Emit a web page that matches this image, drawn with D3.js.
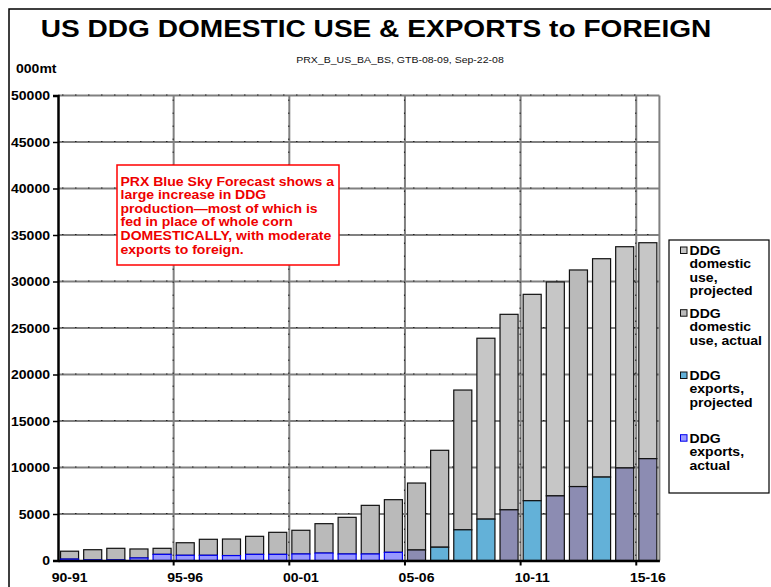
<!DOCTYPE html>
<html><head><meta charset="utf-8">
<script src="https://cdn.jsdelivr.net/npm/d3@7/dist/d3.min.js"></script>
<style>html,body{margin:0;padding:0;background:#fff;}svg{display:block;font-family:"Liberation Sans",Arial,sans-serif;}</style>
</head><body>
<svg id="c" width="771" height="587"></svg>
<script>
// ---- data ----
const categories = ["90-91","91-92","92-93","93-94","94-95","95-96","96-97","97-98","98-99","99-00",
  "00-01","01-02","02-03","03-04","04-05","05-06","06-07","07-08","08-09","09-10",
  "10-11","11-12","12-13","13-14","14-15","15-16"];
const exportsVals = [150,60,60,270,660,560,560,530,660,660,700,800,700,700,880,1130,1430,3300,4450,5450,6430,6950,7950,8970,9950,10950];
const totalVals   = [1000,1160,1310,1240,1310,1910,2280,2310,2600,3030,3250,3960,4640,5930,6540,8330,11850,18330,23900,26470,28620,29950,31240,32450,33740,34170];
const exportKind  = ["actual","actual","actual","actual","actual","actual","actual","actual","actual","actual",
  "actual","actual","actual","actual","actual","other","projected","projected","projected","other",
  "projected","other","other","projected","other","other"];
const domesticKind = ["actual","actual","actual","actual","actual","actual","actual","actual","actual","actual",
  "actual","actual","actual","actual","actual","actual","actual","actual","projected","projected",
  "projected","projected","actual","projected","projected","projected"];
const yTicks = [0,5000,10000,15000,20000,25000,30000,35000,40000,45000,50000];
const xTickLabels = ["90-91","95-96","00-01","05-06","10-11","15-16"];
const legendItems = [
  {key:"domProj", lines:["DDG","domestic","use,","projected"]},
  {key:"domAct", lines:["DDG","domestic","use, actual"]},
  {key:"expProj", lines:["DDG","exports,","projected"]},
  {key:"expAct", lines:["DDG","exports,","actual"]}
];
const noteLines = ["PRX Blue Sky Forecast shows a","large increase in DDG","production\u2014most of which is",
  "fed in place of whole corn","DOMESTICALLY, with moderate","exports to foreign."];

// ---- styles ----
const colors = {
  domProj:{fill:"#c6c6c6",stroke:"#111"},
  domAct:{fill:"#bababa",stroke:"#111"},
  expProj:{fill:"#63b1d8",stroke:"#111"},
  expAct:{fill:"#9999ff",stroke:"#0000ee"},
  expOther:{fill:"#8c8cb2",stroke:"#111"}
};
const SX = 1.17;
const svg = d3.select("#c");
function txt(g, x, y, s, size, weight, anchor, fill){
  return g.append("text").attr("transform",`translate(${x},${y}) scale(${SX},1)`)
    .attr("font-size",size).attr("font-weight",weight||"normal")
    .attr("text-anchor",anchor||"start").attr("fill",fill||"#000").text(s);
}

// frame
svg.append("path").attr("d","M9,587V9H771").attr("fill","none").attr("stroke","#000").attr("stroke-width",1.5);

// title
txt(svg, 376, 37, "US DDG DOMESTIC USE & EXPORTS to FOREIGN", 24, "bold", "middle");
txt(svg, 400, 63, "PRX_B_US_BA_BS, GTB-08-09, Sep-22-08", 9, "normal", "middle", "#111");
txt(svg, 16, 73, "000mt", 12, "bold", "start");

// scales
const x0 = 58, x1 = 659.4, yBot = 560.5, yTop = 95.5;
const x = d3.scaleBand().domain(categories).range([x0,x1]).paddingInner(0).paddingOuter(0);
const y = d3.scaleLinear().domain([0,50000]).range([yBot,yTop]);

// gridlines
const grid = svg.append("g");
yTicks.filter(v=>v>0).forEach(v=>{
  grid.append("line").attr("x1",x0).attr("x2",x1).attr("y1",y(v)).attr("y2",y(v))
    .attr("stroke","#808080").attr("stroke-width",2);
  grid.append("line").attr("x1",x0+4).attr("x2",x1).attr("y1",y(v)-0.5).attr("y2",y(v)-0.5)
    .attr("stroke","#222").attr("stroke-width",1).attr("stroke-dasharray","1.5,11.5");
});
const vIdx = [5,10,15,20,25];
vIdx.forEach(i=>{
  const xx = x(categories[i]);
  grid.append("line").attr("x1",xx).attr("x2",xx).attr("y1",yTop).attr("y2",yBot)
    .attr("stroke","#808080").attr("stroke-width",2);
  grid.append("line").attr("x1",xx-0.5).attr("x2",xx-0.5).attr("y1",yTop+4).attr("y2",yBot)
    .attr("stroke","#222").attr("stroke-width",1).attr("stroke-dasharray","1.5,11.5");
});
grid.append("line").attr("x1",x1).attr("x2",x1).attr("y1",yTop).attr("y2",yBot)
  .attr("stroke","#808080").attr("stroke-width",2);

// data rows & stack
const rows = categories.map((c,i)=>({cat:c, exports:exportsVals[i], domestic:totalVals[i]-exportsVals[i],
  ek:exportKind[i], dk:domesticKind[i]}));
const stack = d3.stack().keys(["exports","domestic"])(rows);
const bw = x.bandwidth()*0.78, off = (x.bandwidth()-bw)/2;
function styleFor(key,d){
  if(key==="domestic") return d.data.dk==="actual"?colors.domAct:colors.domProj;
  if(d.data.ek==="actual") return colors.expAct;
  if(d.data.ek==="projected") return colors.expProj;
  return colors.expOther;
}
["domestic","exports"].forEach(k=>{
  const layer = stack.find(s=>s.key===k);
  svg.append("g").selectAll("rect").data(layer).join("rect")
    .attr("x",d=>x(d.data.cat)+off).attr("width",bw)
    .attr("y",d=>y(d[1])).attr("height",d=>Math.max(0,y(d[0])-y(d[1])))
    .attr("fill",d=>styleFor(k,d).fill).attr("stroke",d=>styleFor(k,d).stroke)
    .attr("stroke-width",1.2);
});

// axes
const axY = svg.append("g").attr("transform",`translate(${x0},0)`)
  .call(d3.axisLeft(y).tickValues(yTicks).tickSize(5).tickFormat(""));
axY.select(".domain").attr("stroke","#000").attr("stroke-width",2.5);
axY.selectAll(".tick line").attr("stroke","#000").attr("stroke-width",1.5);
yTicks.forEach(v=>txt(svg, 50, y(v)+4.5, String(v), 12, "bold", "end"));

const axX = svg.append("g").attr("transform",`translate(0,${yBot})`)
  .call(d3.axisBottom(x).tickValues([]).tickSizeOuter(0));
axX.select(".domain").attr("stroke","#000").attr("stroke-width",2.5);
vIdx.forEach(i=>{
  const xx = x(categories[i]);
  svg.append("line").attr("x1",xx).attr("x2",xx).attr("y1",yBot).attr("y2",yBot+5)
    .attr("stroke","#000").attr("stroke-width",2);
});
xTickLabels.forEach(l=>{
  txt(svg, x(l)+x.bandwidth()/2, 581.5, l, 12, "bold", "middle");
});

// note box
const note = svg.append("g");
note.append("rect").attr("x",117).attr("y",165).attr("width",222).attr("height",100)
  .attr("fill","#fff").attr("stroke","#ff0000").attr("stroke-width",1.5);
noteLines.forEach((l,i)=>txt(note, 120.5, 185.5+i*13.6, l, 12, "bold", "start", "#ee0000"));

// legend
const lg = svg.append("g");
lg.append("rect").attr("x",669).attr("y",240).attr("width",100).attr("height",253)
  .attr("fill","#fff").attr("stroke","#000").attr("stroke-width",1.2);
const legendTops = [255,317.7,380,442.7];
legendItems.forEach((it,k)=>{
  const c = colors[it.key];
  lg.append("rect").attr("x",680.5).attr("y",legendTops[k]-8).attr("width",6.5).attr("height",6.5)
    .attr("fill",c.fill).attr("stroke",c.stroke).attr("stroke-width",1);
  it.lines.forEach((l,j)=>txt(lg, 689.5, legendTops[k]+j*13.4, l, 12, "bold", "start"));
});
</script>
</body></html>
